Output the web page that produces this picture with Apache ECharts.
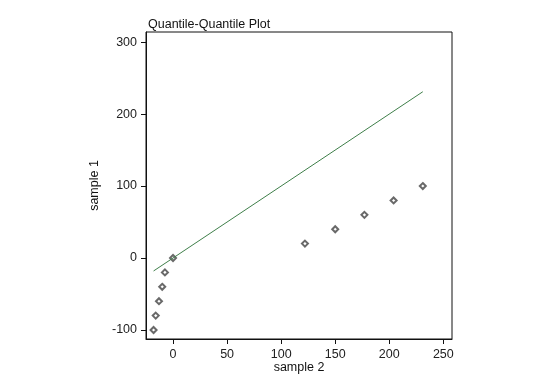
<!DOCTYPE html>
<html>
<head>
<meta charset="utf-8">
<script src="https://cdn.jsdelivr.net/npm/echarts@6/dist/echarts.min.js"></script>
<style>html,body{margin:0;padding:0;background:#fff;}#c{width:540px;height:392px;}</style>
</head>
<body>
<div id="c"></div>
<script>
var sample2 = [-18, -16, -13, -10, -7.5, 0, 122, 150, 177, 204, 231];
var sample1 = [-100, -80, -60, -40, -20, 0, 20, 40, 60, 80, 100];
var refLineX = [-18, 231];
var refLineY = [-18, 231];
var xTicks = [0, 50, 100, 150, 200, 250];
var yTicks = [-100, 0, 100, 200, 300];

var pts = sample2.map(function (x, i) { return [x, sample1[i]]; });
var line = refLineX.map(function (x, i) { return [x, refLineY[i]]; });
var font = '"Liberation Sans", Arial, sans-serif';

var chart = echarts.init(document.getElementById('c'), null, {renderer: 'canvas'});
chart.setOption({
  animation: false,
  backgroundColor: '#fff',
  title: {
    text: 'Quantile-Quantile Plot',
    left: 143, top: 13,
    textStyle: {fontFamily: font, fontSize: 12.5, fontWeight: 'normal', color: '#111'}
  },
  grid: {left: 146, right: 88, top: 32, bottom: 53, show: true, borderColor: '#111', borderWidth: 1, backgroundColor: '#fff'},
  xAxis: {
    type: 'value', min: -25, max: 258,
    name: 'sample 2', nameLocation: 'middle', nameGap: 22, nameMoveOverlap: false,
    nameTextStyle: {fontFamily: font, fontSize: 12.5, color: '#111'},
    axisLine: {show: true, onZero: false, lineStyle: {color: '#111', width: 1}},
    axisTick: {show: true, length: 5, lineStyle: {color: '#111'}, customValues: xTicks},
    axisLabel: {fontFamily: font, fontSize: 12.5, color: '#222', margin: 9, customValues: xTicks},
    splitLine: {show: false}
  },
  yAxis: {
    type: 'value', min: -112.5, max: 314,
    name: 'sample 1', nameLocation: 'middle', nameGap: 42, nameRotate: 90,
    nameTextStyle: {fontFamily: font, fontSize: 12.5, color: '#111'},
    axisLine: {show: true, onZero: false, lineStyle: {color: '#111', width: 1}},
    axisTick: {show: true, length: 5, lineStyle: {color: '#111'}, customValues: yTicks},
    axisLabel: {fontFamily: font, fontSize: 12.5, color: '#222', margin: 9, customValues: yTicks},
    splitLine: {show: false}
  },
  series: [
    {
      type: 'line', data: line, symbol: 'none', silent: true,
      lineStyle: {color: '#3f7f4a', width: 1}, z: 4
    },
    {
      type: 'scatter', data: pts, symbol: 'emptyDiamond', symbolSize: 6,
      itemStyle: {color: '#444', borderColor: '#444', borderWidth: 0.6}, z: 3
    }
  ]
});
</script>
</body>
</html>
